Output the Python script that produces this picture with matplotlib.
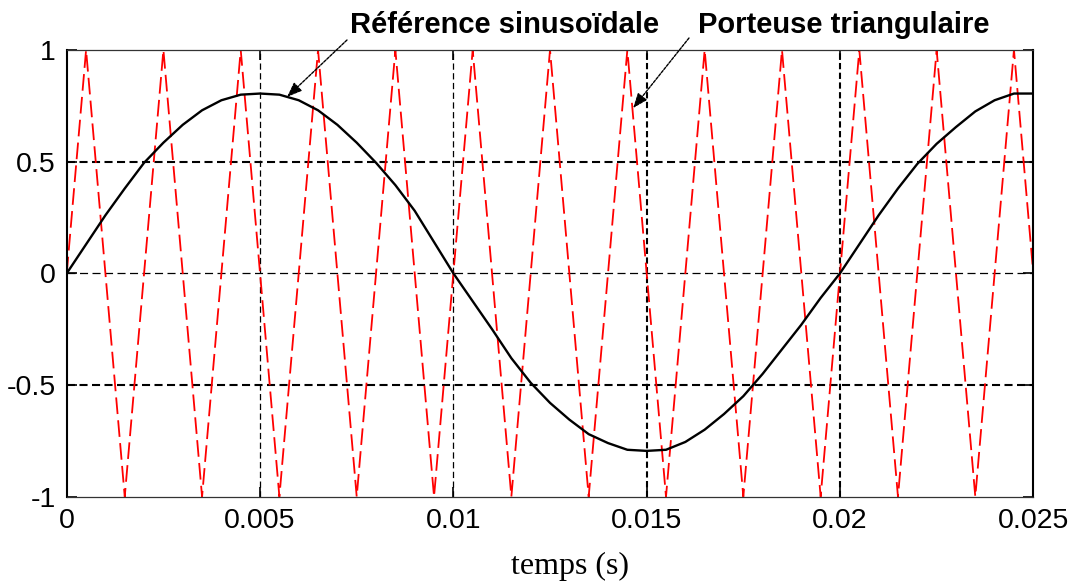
import matplotlib
matplotlib.use("Agg")
import matplotlib.pyplot as plt
from matplotlib import font_manager

# ---------------- data ----------------
# Sinusoidal reference (samples read every 0.5 ms)
t_ref = [0.0000, 0.0005, 0.0010, 0.0015, 0.0020, 0.0025, 0.0030, 0.0035, 0.0040, 0.0045,
         0.0050, 0.0055, 0.0060, 0.0065, 0.0070, 0.0075, 0.0080, 0.0085, 0.0090, 0.0095,
         0.0100, 0.0105, 0.0110, 0.0115, 0.0120, 0.0125, 0.0130, 0.0135, 0.0140, 0.0145,
         0.0150, 0.0155, 0.0160, 0.0165, 0.0170, 0.0175, 0.0180, 0.0185, 0.0190, 0.0195,
         0.0200, 0.0205, 0.0210, 0.0215, 0.0220, 0.0225, 0.0230, 0.0235, 0.0240, 0.0245,
         0.0250]
v_ref = [0.000, 0.130, 0.260, 0.380, 0.495, 0.585, 0.665, 0.730, 0.775, 0.800,
         0.805, 0.800, 0.775, 0.730, 0.665, 0.585, 0.495, 0.395, 0.280, 0.140,
         0.000, -0.125, -0.250, -0.380, -0.490, -0.580, -0.655, -0.720, -0.760, -0.790,
         -0.795, -0.790, -0.755, -0.700, -0.630, -0.550, -0.450, -0.340, -0.230, -0.110,
         0.000, 0.130, 0.260, 0.380, 0.490, 0.580, 0.655, 0.725, 0.775, 0.805,
         0.805]

# Triangular carrier vertices
t_tri = [0.0000, 0.0005, 0.0015, 0.0025, 0.0035, 0.0045, 0.0055, 0.0065, 0.0075, 0.0085,
         0.0095, 0.0105, 0.0115, 0.0125, 0.0135, 0.0145, 0.0155, 0.0165, 0.0175, 0.0185,
         0.0195, 0.0205, 0.0215, 0.0225, 0.0235, 0.0245, 0.0250]
v_tri = [0, 1, -1, 1, -1, 1, -1, 1, -1, 1,
         -1, 1, -1, 1, -1, 1, -1, 1, -1, 1,
         -1, 1, -1, 1, -1, 1, 0]

x_ticks = [0, 0.005, 0.01, 0.015, 0.02, 0.025]
x_ticklabels = ["0", "0.005", "0.01", "0.015", "0.02", "0.025"]
y_ticks = [-1, -0.5, 0, 0.5, 1]
y_ticklabels = ["-1", "-0.5", "0", "0.5", "1"]

x_label = "temps (s)"
label_ref = "Référence sinusoïdale"
label_tri = "Porteuse triangulaire"

# ---------------- figure ----------------
plt.rcParams["lines.scale_dashes"] = False
names = {f.name for f in font_manager.fontManager.ttflist}
narrow = "Liberation Sans Narrow" if "Liberation Sans Narrow" in names else "Liberation Sans"

fig = plt.figure(figsize=(10.68, 5.82), dpi=100)
ax = fig.add_axes([0.0625, 0.1466, 0.905, 0.7675])

# grid (dashed black)
for yv, lw in zip([-0.5, 0, 0.5], [1.5, 0.9, 1.5]):
    ax.axhline(yv, color="black", lw=lw, dashes=(5.8, 3.2), zorder=1)
for xv, lw in zip([0.005, 0.01, 0.015, 0.02], [0.9, 0.9, 1.5, 1.5]):
    ax.axvline(xv, color="black", lw=lw, dashes=(4.5, 2.5), zorder=1)

ax.plot(t_tri, v_tri, color="#ff0000", lw=1.3, dashes=(12, 4.5), zorder=2)
ax.plot(t_ref, v_ref, color="black", lw=1.7, zorder=3)

ax.set_xlim(0, 0.025)
ax.set_ylim(-1, 1)
ax.set_xticks(x_ticks)
ax.set_xticklabels(x_ticklabels)
ax.set_yticks(y_ticks)
ax.set_yticklabels(y_ticklabels)
ax.tick_params(direction="in", length=7, width=1.2, top=True, right=True,
               labelsize=20.5, pad=8)
for lab in ax.get_xticklabels() + ax.get_yticklabels():
    lab.set_family(["Liberation Sans", "DejaVu Sans"])

for side in ["left", "right"]:
    ax.spines[side].set_linewidth(1.5)
    ax.spines[side].set_color("black")
for side in ["top", "bottom"]:
    ax.spines[side].set_linewidth(0.9)
    ax.spines[side].set_color("#333333")

fig.text(570 / 1068, 1 - 566 / 582, x_label, family=["Liberation Serif", "DejaVu Serif"],
         fontsize=23, ha="center", va="center")

# annotations
arrowprops = dict(arrowstyle="-|>,head_length=0.9,head_width=0.35", color="black",
                  lw=1.0, linestyle=(0, (2, 1)), shrinkA=0, shrinkB=0)
ax.annotate(label_ref, xy=(505 / 1068, 1 - 25 / 582), xycoords="figure fraction",
            ha="center", va="center", fontsize=21, fontweight="bold",
            family=[narrow, "DejaVu Sans"], annotation_clip=False)
ax.annotate("", xy=(0.00570, 0.79), xycoords="data",
            xytext=(347 / 1068, 1 - 40 / 582), textcoords="figure fraction",
            arrowprops=arrowprops, annotation_clip=False)
ax.annotate(label_tri, xy=(844 / 1068, 1 - 25 / 582), xycoords="figure fraction",
            ha="center", va="center", fontsize=21, fontweight="bold",
            family=[narrow, "DejaVu Sans"], annotation_clip=False)
ax.annotate("", xy=(0.01465, 0.74), xycoords="data",
            xytext=(689 / 1068, 1 - 38 / 582), textcoords="figure fraction",
            arrowprops=arrowprops, annotation_clip=False)

fig.savefig("out.png", dpi=100)
